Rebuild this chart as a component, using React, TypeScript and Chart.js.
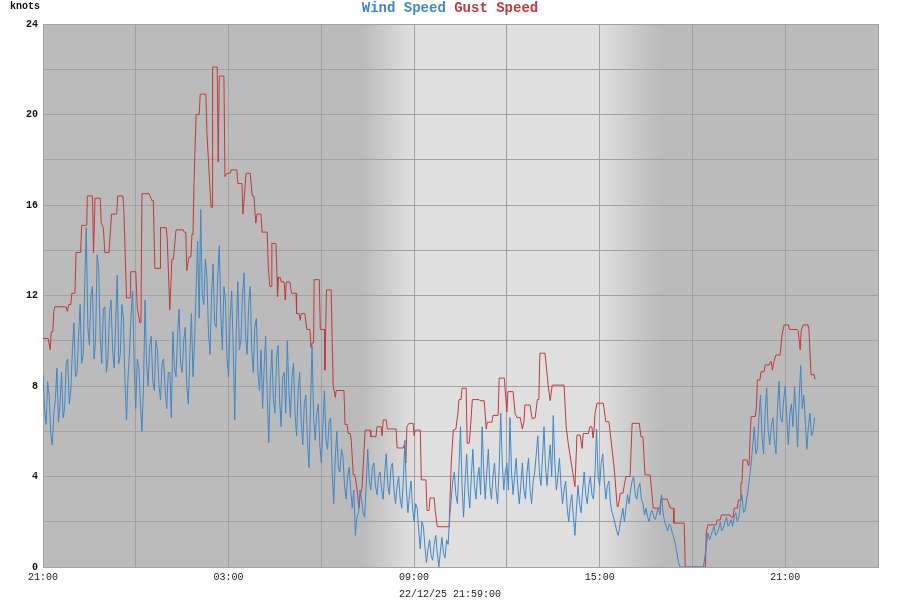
import React, { useEffect, useRef } from "react";
import { Chart, registerables } from "chart.js";

Chart.register(...registerables);

// Time axis: minutes after 21:00 (21/12/25). Axis spans 27 hours.
const AXIS_MAX_MIN = 1620;
const TICK_STEP_MIN = 180;
const LABEL_STEP_MIN = 360;
const TICK_LABELS = ["21:00", "03:00", "09:00", "15:00", "21:00"];
const Y_MAX = 24;
const Y_STEP = 2;
const Y_LABEL_STEP = 4;

// Daylight shading (minutes after 21:00)
const DAWN_START = 619;
const DAWN_END = 716;
const DUSK_START = 1081;
const DUSK_END = 1197;

// Wind speed (knots), one sample every 3 minutes from 21:00
const WIND_STEP_MIN = 3;
const WIND = [
  8.5, 7.0, 6.3, 8.2, 7.6, 5.9, 5.4, 6.8, 7.4, 8.8, 6.4, 7.2, 8.6, 6.6, 7.0, 9.0, 9.2, 7.2, 7.8, 9.6,
  10.8, 8.4, 8.6, 10.2, 11.6, 9.0, 9.4, 12.6, 15.0, 10.6, 9.8, 12.0, 12.4, 9.2, 10.0, 13.8, 13.2, 10.2, 9.0, 11.4,
  11.5, 8.6, 9.2, 11.2, 11.8, 9.6, 8.8, 10.8, 12.9, 9.0, 9.4, 11.6, 11.0, 8.2, 6.5, 8.4, 9.6, 11.2, 12.2, 8.8,
  7.0, 9.2, 8.8, 7.2, 6.0, 8.0, 11.8, 9.0, 8.0, 9.8, 10.2, 8.2, 7.8, 10.0, 9.6, 8.0, 7.4, 9.0, 9.2, 7.8,
  7.0, 8.6, 8.6, 6.6, 10.4, 8.8, 8.4, 10.2, 11.4, 9.0, 8.6, 10.0, 10.6, 8.0, 7.2, 9.4, 11.2, 8.4, 9.9, 12.2,
  14.4, 11.0, 15.8, 12.0, 11.6, 13.6, 12.8, 10.4, 9.4, 12.0, 13.4, 10.8, 10.6, 12.8, 14.2, 11.2, 9.6, 12.4, 11.8, 9.2,
  8.4, 11.0, 12.2, 9.8, 6.5, 10.4, 12.6, 9.6, 10.0, 12.0, 13.0, 10.2, 9.4, 11.6, 12.4, 9.6, 8.6, 10.6, 11.0, 8.6,
  7.8, 9.6, 7.0, 8.8, 10.2, 7.6, 5.5, 8.2, 9.6, 7.4, 6.8, 9.2, 9.8, 7.4, 6.2, 8.4, 8.6, 6.8, 10.0, 7.8,
  6.6, 8.4, 9.0, 6.8, 5.8, 7.8, 8.6, 6.4, 5.4, 7.2, 7.6, 5.6, 4.4, 7.0, 9.8, 6.6, 5.6, 6.8, 7.2, 5.4,
  4.6, 6.2, 7.8, 5.6, 5.2, 6.4, 6.6, 4.2, 2.8, 4.8, 6.0, 4.4, 4.2, 5.2, 4.9, 3.6, 3.0, 4.0, 4.4, 3.4,
  2.6, 3.4, 1.4, 2.2, 2.4, 3.4, 3.0, 2.4, 2.2, 3.6, 5.2, 3.8, 3.4, 4.4, 4.6, 3.6, 3.2, 4.0, 4.2, 3.4,
  3.0, 4.2, 5.0, 3.6, 3.2, 4.4, 4.6, 3.4, 2.8, 3.6, 4.0, 3.0, 2.6, 3.8, 5.6, 3.4, 2.4, 3.2, 3.8, 2.6,
  2.0, 2.8, 2.6, 1.6, 0.8, 2.0, 1.8, 0.9, 0.2, 0.8, 1.2, 0.5, 0.3, 1.0, 1.4, 0.6, 0.0, 0.7, 1.3, 0.6,
  0.4, 1.2, 1.0, 2.2, 3.0, 3.8, 4.2, 3.2, 2.8, 4.4, 6.2, 3.6, 2.2, 3.8, 5.0, 3.4, 2.6, 4.0, 5.2, 3.6,
  3.0, 4.0, 4.4, 3.2, 6.2, 4.2, 3.0, 4.2, 5.2, 3.6, 3.0, 4.0, 4.6, 3.4, 2.8, 4.4, 6.8, 4.6, 3.4, 4.2,
  4.6, 3.4, 6.6, 4.2, 3.2, 4.0, 4.8, 3.6, 2.8, 3.6, 4.6, 3.4, 3.0, 4.2, 4.8, 3.4, 2.8, 3.8, 4.2, 5.0,
  5.8, 4.2, 3.6, 4.8, 6.2, 4.4, 3.6, 4.6, 5.4, 4.0, 6.7, 4.6, 3.4, 4.0, 4.8, 3.6, 2.8, 3.4, 3.8, 2.6,
  2.0, 2.8, 3.2, 2.2, 1.4, 2.6, 3.6, 2.8, 2.4, 3.4, 4.2, 3.2, 2.8, 3.6, 4.0, 3.2, 3.0, 4.2, 6.1, 4.0,
  3.6, 4.6, 5.0, 3.8, 3.0, 3.6, 3.8, 2.8, 2.4, 2.2, 1.9, 1.6, 1.4, 1.8, 2.2, 2.6, 2.0, 2.6, 3.2, 2.8,
  3.4, 3.8, 4.0, 3.2, 3.0, 3.5, 3.7, 3.0, 2.8, 2.3, 2.6, 2.2, 2.0, 2.4, 2.5, 2.2, 2.1, 2.4, 2.6, 2.3,
  3.2, 2.4, 2.0, 1.8, 1.6, 1.9, 1.8, 1.5, 1.3, 1.0, 0.6, 0.2, 0, 0, 0, 0, 0, 0, 0, 0,
  0, 0, 0, 0, 0, 0, 0, 0, 0.4, 1.0, 1.5, 1.2, 1.4, 1.6, 1.8, 1.4, 1.5, 1.7, 2.0, 1.6,
  1.7, 2.0, 2.2, 1.8, 1.9, 2.1, 1.8, 2.2, 2.4, 2.0, 2.2, 2.8, 3.2, 2.4, 2.5, 3.0, 3.4, 4.0, 4.6, 5.4,
  6.2, 5.0, 5.2, 6.6, 7.6, 5.8, 5.0, 6.8, 7.9, 6.0, 5.4, 6.2, 6.6, 5.6, 5.0, 7.0, 8.2, 6.6, 6.4, 7.4,
  8.0, 6.6, 5.4, 6.8, 7.2, 6.2, 8.0, 6.8, 5.3, 7.4, 8.9, 7.0, 7.6, 6.4, 5.2, 6.2, 6.8, 5.8, 6.0, 6.6,
];

// Gust speed (knots): times in minutes after 21:00 and values
const GUST_MIN = [
  0, 10, 14, 16, 19, 21, 23, 45, 47, 50, 54, 56, 62, 64, 73, 75, 85, 86, 96, 98,
  101, 111, 113, 117, 120, 128, 133, 143, 145, 155, 157, 162, 169, 170, 180, 183, 188, 190, 192, 206,
  211, 214, 217, 227, 228, 239, 241, 246, 250, 253, 258, 272, 274, 277, 279, 283, 287, 289, 291, 293,
  297, 303, 305, 316, 318, 326, 328, 329, 338, 340, 342, 351, 353, 357, 363, 365, 376, 378, 386, 388,
  394, 402, 406, 409, 413, 415, 423, 425, 435, 437, 440, 443, 444, 452, 454, 455, 457, 460, 462, 468,
  470, 472, 479, 482, 491, 492, 497, 499, 501, 508, 512, 518, 520, 522, 525, 526, 536, 538, 546, 547,
  550, 559, 563, 565, 567, 569, 584, 586, 590, 592, 596, 598, 602, 605, 609, 613, 615, 619, 625, 635,
  636, 646, 648, 656, 658, 660, 666, 668, 685, 687, 699, 701, 702, 704, 706, 710, 718, 720, 722, 732,
  734, 743, 745, 749, 751, 759, 761, 765, 788, 792, 796, 801, 805, 807, 811, 813, 821, 823, 827, 829,
  833, 846, 848, 856, 860, 862, 871, 873, 883, 885, 895, 900, 902, 912, 916, 920, 926, 930, 933, 935,
  945, 949, 955, 959, 962, 964, 974, 980, 984, 988, 1011, 1015, 1019, 1032, 1036, 1042, 1046, 1048, 1058, 1061,
  1065, 1067, 1069, 1071, 1075, 1087, 1092, 1098, 1108, 1114, 1116, 1120, 1125, 1131, 1139, 1143, 1157, 1160, 1164, 1168,
  1178, 1184, 1197, 1199, 1211, 1217, 1223, 1224, 1244, 1246, 1285, 1287, 1290, 1306, 1308, 1314, 1316, 1333, 1335, 1339,
  1341, 1347, 1349, 1353, 1354, 1356, 1358, 1366, 1368, 1370, 1372, 1374, 1382, 1384, 1386, 1391, 1393, 1399, 1401, 1409,
  1411, 1413, 1415, 1418, 1422, 1430, 1434, 1438, 1446, 1448, 1463, 1465, 1469, 1471, 1475, 1484, 1486, 1490, 1496, 1498,
];
const GUST = [
  10.1, 10.1, 9.6, 10.4, 10.4, 11.3, 11.5, 11.5, 11.3, 11.6, 11.6, 12.1, 12.1, 13.9, 13.9, 15.1, 15.1, 16.4, 16.4, 13.9,
  16.3, 16.3, 15.2, 15.0, 13.9, 13.9, 15.6, 15.6, 16.4, 16.4, 15.7, 11.9, 11.9, 13.05, 13.05, 11.45, 10.8, 10.8, 16.5, 16.5,
  16.2, 16.2, 13.2, 13.2, 15.0, 15.0, 14.5, 11.35, 13.6, 13.6, 14.9, 14.9, 14.8, 14.8, 13.1, 13.7, 13.7, 14.7, 14.7, 17.0,
  20.0, 20.0, 20.9, 20.9, 19.2, 15.9, 15.9, 22.1, 22.1, 17.9, 21.7, 21.7, 17.25, 17.4, 17.4, 17.55, 17.55, 16.95, 16.95, 15.6,
  17.4, 17.4, 16.4, 16.4, 15.2, 15.6, 15.6, 14.8, 14.8, 13.3, 12.4, 12.4, 14.3, 14.3, 12.8, 11.95, 12.8, 12.8, 12.6, 12.6,
  11.8, 12.6, 12.6, 12.1, 12.1, 11.2, 11.2, 10.9, 11.2, 11.2, 10.5, 10.5, 9.7, 9.9, 9.9, 12.7, 12.7, 10.5, 10.5, 8.7,
  12.25, 12.25, 7.97, 7.8, 7.5, 7.8, 7.8, 6.3, 6.3, 5.9, 5.9, 5.6, 4.07, 4.07, 3.5, 2.6, 3.1, 3.5, 6.05, 6.05,
  5.76, 5.76, 6.2, 6.2, 5.8, 6.5, 6.5, 6.1, 6.1, 5.26, 5.26, 5.4, 5.4, 4.6, 6.2, 6.35, 6.35, 5.8, 6.05, 6.05,
  3.85, 3.85, 2.5, 2.5, 3.05, 3.05, 2.5, 1.78, 1.78, 4.6, 6.05, 6.1, 6.8, 7.4, 7.4, 7.9, 7.9, 5.47, 5.47, 6.05,
  7.4, 7.4, 7.35, 7.35, 6.1, 6.4, 6.4, 6.7, 6.7, 8.35, 8.35, 6.86, 7.75, 7.75, 6.77, 6.6, 6.6, 6.1, 6.4, 7.16,
  7.16, 6.55, 6.6, 7.4, 7.4, 9.45, 9.45, 8.04, 7.35, 8.04, 8.04, 6.2, 5.47, 3.55, 5.83, 5.83, 5.24, 5.9, 5.9, 6.2,
  6.2, 5.7, 6.0, 6.8, 7.24, 7.24, 6.42, 6.42, 4.43, 2.67, 2.67, 3.26, 3.26, 4.0, 4.0, 6.35, 6.35, 5.76, 5.76, 4.07,
  4.07, 2.6, 2.6, 3.0, 3.0, 2.6, 2.6, 1.94, 1.94, 0, 0, 1.56, 1.86, 1.86, 2.08, 2.08, 2.3, 2.3, 2.2, 2.2,
  2.6, 2.6, 2.96, 2.96, 3.7, 3.7, 4.73, 4.73, 4.5, 4.5, 5.9, 6.65, 6.65, 7.0, 8.27, 8.27, 8.63, 8.63, 8.93, 8.93,
  9.07, 9.07, 8.7, 9.07, 9.37, 9.37, 10.3, 10.7, 10.7, 10.5, 10.5, 10.45, 9.6, 10.45, 10.7, 10.7, 10.5, 8.5, 8.5, 8.3,
];

const SERIES_NAMES = ["Wind Speed", "Gust Speed"];
const Y_UNIT = "knots";
const FOOTER = "22/12/25 21:59:00";

const WIND_COLOR = "#4087c6";
const GUST_COLOR = "#c23a3a";
const NIGHT = "#bbbbbb";
const DAY = "#dfdfdf";
const GRID = "#a2a2a2";
const MONO = "'Liberation Mono', 'DejaVu Sans Mono', monospace";

const bgPlugin = {
  id: "bgShade",
  beforeDraw(chart: any) {
    const { ctx, chartArea: a, scales } = chart;
    const x = scales.x;
    const w = a.right - a.left;
    const pos = (m: number) =>
      Math.min(1, Math.max(0, (x.getPixelForValue(m) - a.left) / w));
    const g = ctx.createLinearGradient(a.left, 0, a.right, 0);
    g.addColorStop(0, NIGHT);
    g.addColorStop(pos(DAWN_START), NIGHT);
    g.addColorStop(pos(DAWN_END), DAY);
    g.addColorStop(pos(DUSK_START), DAY);
    g.addColorStop(pos(DUSK_END), NIGHT);
    g.addColorStop(1, NIGHT);
    ctx.save();
    ctx.fillStyle = g;
    ctx.fillRect(a.left, a.top, w, a.bottom - a.top);
    ctx.restore();
  },
};

const textPlugin = {
  id: "texts",
  afterDraw(chart: any) {
    const { ctx, width } = chart;
    ctx.save();
    ctx.font = `bold 14px ${MONO}`;
    ctx.textBaseline = "middle";
    ctx.textAlign = "left";
    const t1 = SERIES_NAMES[0];
    const t2 = SERIES_NAMES[1];
    const sp = " ";
    const full = ctx.measureText(t1 + sp + t2).width;
    let x0 = width / 2 - full / 2;
    ctx.fillStyle = WIND_COLOR;
    ctx.fillText(t1, x0, 8);
    x0 += ctx.measureText(t1 + sp).width;
    ctx.fillStyle = GUST_COLOR;
    ctx.fillText(t2, x0, 8);
    ctx.font = `bold 10px ${MONO}`;
    ctx.fillStyle = "#111";
    ctx.textAlign = "left";
    ctx.fillText(Y_UNIT, 10, 6);
    ctx.font = `10px ${MONO}`;
    ctx.fillStyle = "#222";
    ctx.textAlign = "center";
    ctx.fillText(FOOTER, width / 2, 594);
    ctx.restore();
  },
};

export default function App() {
  const ref = useRef<HTMLCanvasElement | null>(null);
  useEffect(() => {
    if (!ref.current) return;
    const windData = WIND.map((v, i) => ({ x: i * WIND_STEP_MIN, y: v }));
    const gustData = GUST_MIN.map((t, i) => ({ x: t, y: GUST[i] }));
    const chart = new Chart(ref.current, {
      type: "line",
      data: {
        datasets: [
          {
            label: SERIES_NAMES[0],
            data: windData,
            borderColor: WIND_COLOR,
            borderWidth: 1,
            pointRadius: 0,
            tension: 0,
          },
          {
            label: SERIES_NAMES[1],
            data: gustData,
            borderColor: GUST_COLOR,
            borderWidth: 1,
            pointRadius: 0,
            tension: 0,
          },
        ],
      },
      options: {
        animation: false,
        responsive: false,
        devicePixelRatio: 1,
        layout: { padding: { top: 24, right: 22, left: 0, bottom: 0 } },
        plugins: {
          legend: { display: false },
          title: { display: false },
          tooltip: { enabled: false },
        },
        scales: {
          x: {
            type: "linear",
            min: 0,
            max: AXIS_MAX_MIN,
            afterFit(s: any) {
              s.height = 33;
            },
            ticks: {
              stepSize: TICK_STEP_MIN,
              autoSkip: false,
              maxRotation: 0,
              padding: 4,
              color: "#222",
              font: { family: MONO, size: 10 },
              callback: (v: any) =>
                v % LABEL_STEP_MIN === 0 ? TICK_LABELS[v / LABEL_STEP_MIN] : "",
            },
            grid: { color: GRID, drawTicks: false },
            border: { color: GRID },
          },
          y: {
            min: 0,
            max: Y_MAX,
            afterFit(s: any) {
              s.width = 43;
            },
            ticks: {
              stepSize: Y_STEP,
              padding: 5,
              color: "#111",
              font: { family: MONO, size: 10, weight: "bold" },
              callback: (v: any) => (v % Y_LABEL_STEP === 0 ? String(v) : ""),
            },
            grid: { color: GRID, drawTicks: false },
            border: { color: GRID },
          },
        },
      },
      plugins: [bgPlugin, textPlugin],
    });
    return () => chart.destroy();
  }, []);
  return (
    <div style={{ position: "absolute", left: 0, top: 0, width: 900, height: 600 }}>
      <canvas ref={ref} width={900} height={600} />
    </div>
  );
}
